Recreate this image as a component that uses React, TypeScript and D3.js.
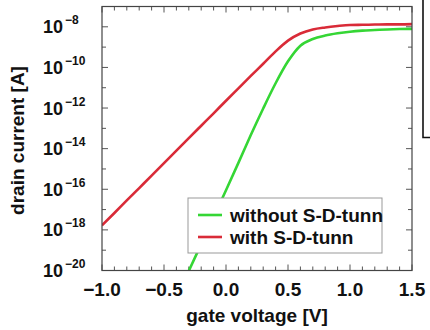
import React from "react";
import * as d3 from "d3";

// Gate voltage samples [V]
const gateVoltage = [
  -1.0, -0.9, -0.8, -0.7, -0.6, -0.5, -0.4, -0.3, -0.2, -0.1, 0.0, 0.1, 0.2,
  0.3, 0.4, 0.5, 0.6, 0.7, 0.8, 0.9, 1.0, 1.1, 1.2, 1.3, 1.4, 1.5,
];

// log10 of drain current [A] with source-drain tunnelling
const withTunnLog = [
  -17.78, -17.17, -16.55, -15.94, -15.33, -14.71, -14.1, -13.48, -12.87,
  -12.26, -11.64, -11.03, -10.42, -9.82, -9.21, -8.68, -8.33, -8.13, -8.03,
  -7.96, -7.91, -7.9, -7.89, -7.88, -7.88, -7.87,
];

// Gate voltage samples for the curve without tunnelling [V]
const gateVoltageNoTunn = [
  -0.31, -0.2, -0.1, 0.0, 0.1, 0.2, 0.3, 0.4, 0.5, 0.6, 0.7, 0.8, 0.9, 1.0,
  1.1, 1.2, 1.3, 1.4, 1.5,
];

// log10 of drain current [A] without source-drain tunnelling
const withoutTunnLog = [
  -20.15, -18.7, -17.38, -16.05, -14.7, -13.33, -12.02, -10.78, -9.7, -8.93,
  -8.6, -8.43, -8.32, -8.24, -8.19, -8.16, -8.13, -8.11, -8.1,
];

const xMajorTicks = [-1.0, -0.5, 0.0, 0.5, 1.0, 1.5];
const yLabelExponents = [-20, -18, -16, -14, -12, -10, -8];

const seriesNames = ["without S-D-tunn", "with S-D-tunn"];
const seriesColors = ["#35d635", "#d92b38"];

const W = 430;
const H = 330;
const left = 102;
const right = 412;
const top = 6.5;
const bottom = 270.5;

const FONT = "'Liberation Sans', Arial, Helvetica, sans-serif";

export default function App() {
  const x = d3.scaleLinear().domain([-1, 1.5]).range([left, right]);
  const y = d3.scaleLog().domain([1e-20, 1e-7]).range([bottom, top]);

  const line = d3
    .line<[number, number]>()
    .x((d) => x(d[0]))
    .y((d) => y(Math.pow(10, d[1])))
    .curve(d3.curveMonotoneX);

  const redPts: [number, number][] = gateVoltage.map((v, i) => [v, withTunnLog[i]]);
  const greenPts: [number, number][] = gateVoltageNoTunn.map((v, i) => [v, withoutTunnLog[i]]);

  const xMinor = d3.range(-10, 16).map((k) => k / 10);
  const isMajorX = (v: number) => xMajorTicks.some((m) => Math.abs(m - v) < 1e-6);
  const yDecades = d3.range(-20, -6);

  const tickColor = "#555";

  return (
    <svg
      width={W}
      height={H}
      style={{ position: "fixed", left: 0, top: 0, background: "#fff" }}
      fontFamily={FONT}
    >
      <defs>
        <clipPath id="plotClip">
          <rect x={left} y={top} width={right - left} height={bottom - top} />
        </clipPath>
      </defs>

      {/* x ticks, bottom and top, pointing inward */}
      {xMinor.map((v) => {
        const len = isMajorX(v) ? 6 : 4;
        const px = x(v);
        return (
          <g key={"xt" + v} stroke={tickColor} strokeWidth={1}>
            <line x1={px} x2={px} y1={bottom} y2={bottom - len} />
            <line x1={px} x2={px} y1={top} y2={top + len} />
          </g>
        );
      })}

      {/* y ticks, left and right, one per decade */}
      {yDecades.map((e) => {
        const py = y(Math.pow(10, e));
        const len = e % 2 === 0 ? 6 : 4;
        return (
          <g key={"yt" + e} stroke={tickColor} strokeWidth={1}>
            <line x1={left} x2={left + len} y1={py} y2={py} />
            <line x1={right} x2={right - len} y1={py} y2={py} />
          </g>
        );
      })}

      {/* curves */}
      <g clipPath="url(#plotClip)" fill="none" strokeWidth={2.6} strokeLinejoin="round">
        <path d={line(greenPts) ?? ""} stroke={seriesColors[0]} />
        <path d={line(redPts) ?? ""} stroke={seriesColors[1]} />
      </g>

      {/* frame */}
      <rect
        x={left}
        y={top}
        width={right - left}
        height={bottom - top}
        fill="none"
        stroke="#444"
        strokeWidth={1.2}
      />

      {/* x tick labels */}
      {xMajorTicks.map((v) => (
        <text
          key={"xl" + v}
          x={x(v)}
          y={296}
          textAnchor="middle"
          fontSize={19}
          fontWeight="bold"
          fill="#111"
        >
          {(v < 0 ? "\u2212" : "") + Math.abs(v).toFixed(1)}
        </text>
      ))}

      {/* y tick labels as powers of ten */}
      {yLabelExponents.map((e) => {
        const py = y(Math.pow(10, e));
        return (
          <text key={"yl" + e} x={43} y={py + 6.5} fontSize={18} fontWeight="bold" fill="#111">
            10
            <tspan fontSize={12} dy={-9} dx={2}>
              {"\u2212" + Math.abs(e)}
            </tspan>
          </text>
        );
      })}

      {/* axis titles */}
      <text
        x={(left + right) / 2}
        y={322}
        textAnchor="middle"
        fontSize={19}
        fontWeight="bold"
        fill="#111"
      >
        gate voltage [V]
      </text>
      <text
        transform={`translate(24, ${(top + bottom) / 2 + 2}) rotate(-90)`}
        textAnchor="middle"
        fontSize={19}
        fontWeight="bold"
        fill="#111"
      >
        drain current [A]
      </text>

      {/* legend */}
      <g>
        <rect x={188} y={198} width={194} height={55} fill="#fff" stroke="#999" strokeWidth={1} />
        {seriesNames.map((name, i) => {
          const ly = 215 + i * 22;
          return (
            <g key={name}>
              <line x1={198} x2={222} y1={ly} y2={ly} stroke={seriesColors[i]} strokeWidth={2.6} />
              <text x={230} y={ly + 6.5} fontSize={19} fontWeight="bold" fill="#111">
                {name}
              </text>
            </g>
          );
        })}
      </g>

      {/* edge of the neighbouring panel */}
      <path d="M423,0 V137.5 H430" fill="none" stroke="#111" strokeWidth={1.6} />
    </svg>
  );
}
